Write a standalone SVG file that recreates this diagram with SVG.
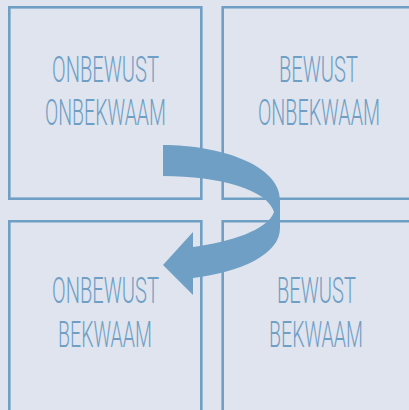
<svg xmlns="http://www.w3.org/2000/svg" width="409" height="410" viewBox="0 0 409 410">
<style>
.box{fill:none;stroke:#6f9fc4;stroke-width:2.6}
.t{font-family:"Roboto","Liberation Sans",Arial,sans-serif;font-weight:300;font-size:26px;fill:#6f9fc4;text-anchor:middle}
</style>
<rect x="0" y="0" width="409" height="410" fill="#dfe4ef"/>
<g id="n1">
<rect class="box" x="9.3" y="7.3" width="192" height="191.4"/>
<text class="t" transform="translate(105.5,82) scale(1,1.42)" textLength="107" lengthAdjust="spacingAndGlyphs">ONBEWUST</text>
<text class="t" transform="translate(105.5,125) scale(1,1.42)" textLength="121" lengthAdjust="spacingAndGlyphs">ONBEKWAAM</text>
</g>
<g id="n2">
<path class="box" d="M410,7.3 H222.7 V198.7 H410"/>
<text class="t" transform="translate(318.5,82) scale(1,1.42)" textLength="79" lengthAdjust="spacingAndGlyphs">BEWUST</text>
<text class="t" transform="translate(319,125) scale(1,1.42)" textLength="122" lengthAdjust="spacingAndGlyphs">ONBEKWAAM</text>
</g>
<g id="n3">
<path class="box" d="M9.3,411 V221.3 H201.3 V411"/>
<text class="t" transform="translate(105.5,303) scale(1,1.42)" textLength="107" lengthAdjust="spacingAndGlyphs">ONBEWUST</text>
<text class="t" transform="translate(105,347) scale(1,1.42)" textLength="94" lengthAdjust="spacingAndGlyphs">BEKWAAM</text>
</g>
<g id="n4">
<path class="box" d="M222.7,411 V221.3 H410"/>
<text class="t" transform="translate(316.5,303) scale(1,1.42)" textLength="79" lengthAdjust="spacingAndGlyphs">BEWUST</text>
<text class="t" transform="translate(316,347) scale(1,1.42)" textLength="94" lengthAdjust="spacingAndGlyphs">BEKWAAM</text>
</g>
<g id="connectors">
<path fill="#6f9fc4" d="M163,145 C220,145 280,165 280,200 L280,228 C280,255 240,272 193,278 L193,295 L163,265 L193,232 L193,247 C230,242 268,230 274,212 C268,190 220,176 163,176 Z"/>
</g>
</svg>
